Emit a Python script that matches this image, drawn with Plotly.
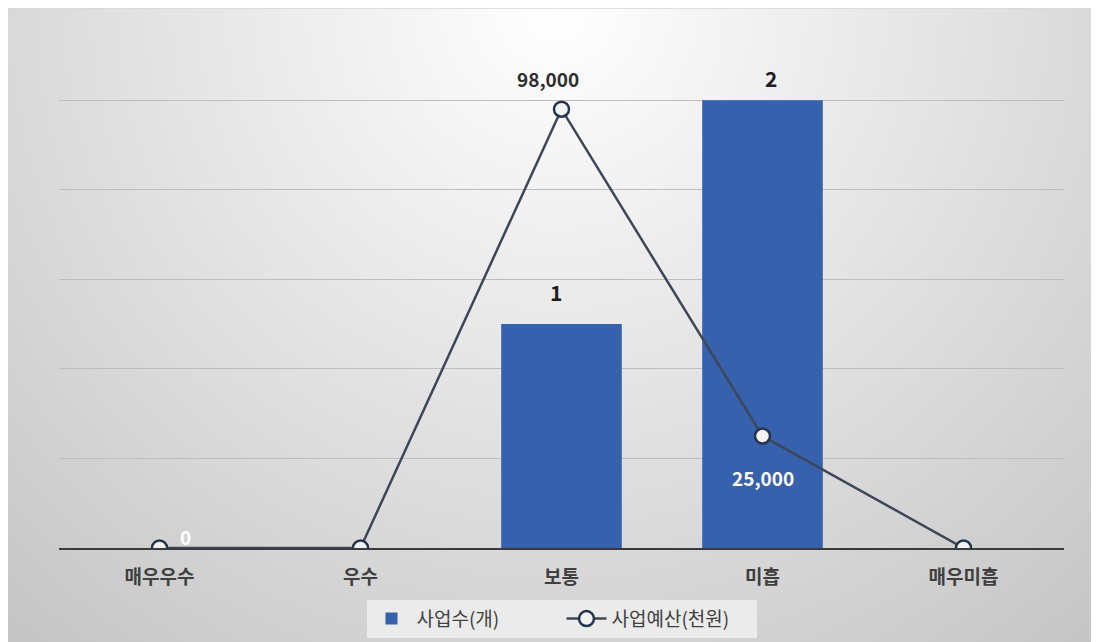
import base64
import plotly.graph_objects as go

categories = ["매우우수", "우수", "보통", "미흡", "매우미흡"]
project_counts = [0, 0, 1, 2, 0]
project_budget = [0, 0, 98000, 25000, 0]
count_labels = ["", "", "1", "2", ""]
budget_labels = ["0", "", "98,000", "25,000", ""]

FONT = "Noto Sans CJK KR"

W, H = 1099, 642
L, R, T, B = 51, 43, 90, 99
pw, ph = W - L - R, H - T - B

svg = (
    "<svg xmlns='http://www.w3.org/2000/svg' width='1099' height='642' viewBox='0 0 1099 642' "
    "preserveAspectRatio='none'><defs><radialGradient id='g' cx='548' cy='0' r='850' "
    "gradientUnits='userSpaceOnUse'><stop offset='0' stop-color='#ffffff'/>"
    "<stop offset='1' stop-color='#c4c4c4'/></radialGradient></defs>"
    "<rect width='1099' height='642' fill='url(#g)'/></svg>"
)
bg_src = "data:image/svg+xml;base64," + base64.b64encode(svg.encode()).decode()

fig = go.Figure()
fig.add_trace(go.Bar(
    x=categories, y=project_counts, name="사업수(개)",
    marker=dict(color="#3761ad", line=dict(width=0)),
    width=0.6,
    yaxis="y",
))
fig.add_trace(go.Scatter(
    x=categories, y=project_budget, name="사업예산(천원)",
    mode="lines+markers",
    line=dict(color="#3c4858", width=2.5),
    marker=dict(symbol="circle", size=15, color="#f2f2f2",
                line=dict(color="#24344f", width=2.5)),
    yaxis="y2",
))

annotations = []
# bar value labels
bar_shift = {2: 32, 3: 22}
for i, (c, v, t) in enumerate(zip(categories, project_counts, count_labels)):
    if t:
        annotations.append(dict(x=c, y=v, xref="x", yref="y", text=t, showarrow=False,
                                yshift=bar_shift.get(i, 25), xshift=8 if i == 3 else -6,
                                font=dict(family=FONT, size=21, color="#1e1e1e", weight="bold")))
# line value labels
line_style = {
    0: dict(xshift=26, yshift=12, color="#ffffff"),
    2: dict(xshift=-14, yshift=31, color="#2e2e2e"),
    3: dict(xshift=0, yshift=-41, color="#ffffff"),
}
for i, (c, v, t) in enumerate(zip(categories, project_budget, budget_labels)):
    if t:
        s = line_style[i]
        annotations.append(dict(x=c, y=v, xref="x", yref="y2", text=t, showarrow=False,
                                xshift=s["xshift"], yshift=s["yshift"],
                                font=dict(family=FONT, size=19, color=s["color"], weight="bold")))

fig.update_layout(
    width=W, height=H,
    margin=dict(l=L, r=R, t=T, b=B),
    paper_bgcolor="#d8d8d8",
    plot_bgcolor="rgba(0,0,0,0)",
    font=dict(family=FONT, color="#404040"),
    showlegend=True,
    legend=dict(orientation="h", x=0.5, xanchor="center", y=-0.115, yanchor="top",
                bgcolor="#ebebeb", font=dict(family=FONT, size=19, color="#404040"),
                itemwidth=40, entrywidth=140, entrywidthmode="pixels", tracegroupgap=0),
    xaxis=dict(showline=True, linecolor="#3a3a3a", linewidth=2, showgrid=False,
               ticks="", tickfont=dict(family=FONT, size=19, color="#404040", weight="bold"),
               ticklabelstandoff=11),
    yaxis=dict(range=[0, 2.01], tickvals=[0.4, 0.8, 1.2, 1.6, 2.0], showgrid=True,
               gridcolor="#bdbdbd", gridwidth=1, showticklabels=False, zeroline=False),
    yaxis2=dict(range=[0, 100500], overlaying="y", side="right", showgrid=False,
                showticklabels=False, zeroline=False),
    bargap=0.4,
    annotations=annotations,
    images=[dict(source=bg_src, xref="paper", yref="paper",
                 x=-L / pw, y=1 + T / ph,
                 sizex=W / pw, sizey=H / ph,
                 sizing="stretch", layer="below", xanchor="left", yanchor="top")],
)

fig.write_html("out.html")
